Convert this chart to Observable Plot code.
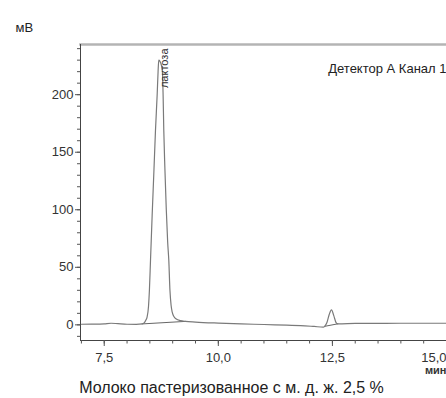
<!DOCTYPE html>
<html>
<head>
<meta charset="utf-8">
<script src="https://cdn.jsdelivr.net/npm/d3@7"></script>
<script src="https://cdn.jsdelivr.net/npm/@observablehq/plot@0.6"></script>
<style>
  html, body { margin: 0; padding: 0; background: #fff; overflow: hidden; }
  #chart svg { display: block; }
  #caption { width: 463px; text-align: center; font: 16px "Liberation Sans", Arial, sans-serif; line-height: 20px; color: #222; white-space: nowrap; }
</style>
</head>
<body>
<div id="chart"></div>
<div id="caption">Молоко пастеризованное с м. д. ж. 2,5 %</div>
<script>
// Chromatogram signal (time, min; signal, mV)
const times = [7.0, 7.3, 7.5, 7.65, 7.8, 8.0, 8.2, 8.33, 8.38, 8.41, 8.44, 8.47, 8.49, 8.514, 8.55, 8.59, 8.623, 8.66, 8.68, 8.695, 8.72, 8.75, 8.775, 8.79, 8.805, 8.83, 8.86, 8.89, 8.915, 8.94, 8.965, 8.99, 9.03, 9.08, 9.17, 9.28, 9.5, 10.0, 10.5, 11.0, 11.5, 11.8, 12.1, 12.3, 12.33, 12.38, 12.43, 12.48, 12.53, 12.58, 12.62, 13.0, 13.5, 14.0, 14.5, 15.0];
const signal = [0.5, 0.6, 0.9, 1.4, 1.0, 0.5, 0.4, 0.8, 2, 4, 7, 16, 30, 56, 95, 135, 169, 200, 220, 230, 229, 226, 220, 200, 169, 135, 100, 72, 56, 30, 17, 11, 7, 5, 3.7, 3.0, 2.4, 1.5, 0.8, 0.3, -0.3, -0.6, -1.4, -2.0, -1.3, 2, 9, 13, 8, 2, 0.9, 1.2, 1.3, 1.4, 1.4, 1.4];

// Integration baselines under peaks
const baseTimes = [8.33, 9.28, 12.33, 12.62];
const baseValues = [0.8, 3.0, -1.3, 0.9];
const basePeak = [1, 1, 2, 2];

// Peak names
const peakNames = ["лактоза"];
const peakTimes = [8.695];

// Axis ticks
const xTicks = [7.5, 10.0, 12.5];
const xLastTick = [15.0];
const xMinor = d3.range(7.0, 15.01, 0.5);
const yTicks = [0, 50, 100, 150, 200];
const yMinor = d3.range(-10, 241, 10);

const xDomain = [6.98, 15.0];
const yDomain = [-13.6, 243.6];

const yLabel = "мВ";
const xLabel = "мин";
const channelLabel = "Детектор А Канал 1";

const sig = times.map((t, i) => ({t, v: signal[i]}));
const base = baseTimes.map((t, i) => ({t, v: baseValues[i], p: basePeak[i]}));
const peaks = peakNames.map((name, i) => ({name, t: peakTimes[i]}));
const fmt = d => d.toFixed(1).replace(".", ",");

const chart = Plot.plot({
  width: 446,
  height: 378,
  marginLeft: 80,
  marginRight: 0,
  marginTop: 44,
  marginBottom: 38,
  style: {fontFamily: "'Liberation Sans', Arial, sans-serif", fontSize: "13px", color: "#333", background: "#fff"},
  x: {domain: xDomain},
  y: {domain: yDomain},
  marks: [
    Plot.frame({anchor: "top", stroke: "#b4b4b4", strokeWidth: 2.6}),
    Plot.frame({anchor: "left", stroke: "#444", strokeWidth: 1}),
    Plot.frame({anchor: "bottom", stroke: "#444", strokeWidth: 1}),
    Plot.axisY({ticks: yMinor, tickSize: 3, tickFormat: () => "", label: null, stroke: "#555"}),
    Plot.axisY({ticks: yTicks, tickSize: 5, tickPadding: 2, tickFormat: d => String(d), label: null, fontSize: 13, stroke: "#555", fill: "#333"}),
    Plot.axisX({ticks: xMinor, tickSize: 3.5, tickFormat: () => "", label: null, stroke: "#555"}),
    Plot.axisX({ticks: xTicks, tickSize: 6, tickPadding: 6, tickFormat: fmt, label: null, fontSize: 13, stroke: "#555", fill: "#333"}),
    Plot.axisX({ticks: xLastTick, tickSize: 6, tickPadding: 6, tickFormat: fmt, label: null, fontSize: 13, stroke: "#555", fill: "#333", textAnchor: "end", dx: 0}),
    Plot.line(base, {x: "t", y: "v", z: "p", stroke: "#666", strokeWidth: 1}),
    Plot.line(sig, {x: "t", y: "v", stroke: "#7a7a7a", strokeWidth: 1.2, curve: "monotone-x"}),
    Plot.text(peaks, {x: "t", text: "name", frameAnchor: "top", dy: 4, dx: 1, rotate: -90, textAnchor: "end", fontSize: 11, fill: "#333"}),
    Plot.text([channelLabel], {text: d => d, frameAnchor: "top-right", textAnchor: "end", dx: 0, dy: 19, fontSize: 13, fill: "#222"}),
    Plot.text([yLabel], {text: d => d, frameAnchor: "top-left", textAnchor: "start", dx: -65, dy: -22, fontSize: 13, fill: "#222"}),
    Plot.text([xLabel], {text: d => d, frameAnchor: "bottom-right", textAnchor: "end", dx: 0, dy: 33, fontSize: 11, fontWeight: "bold", fill: "#333"})
  ]
});
document.getElementById("chart").appendChild(chart);
</script>
</body>
</html>
